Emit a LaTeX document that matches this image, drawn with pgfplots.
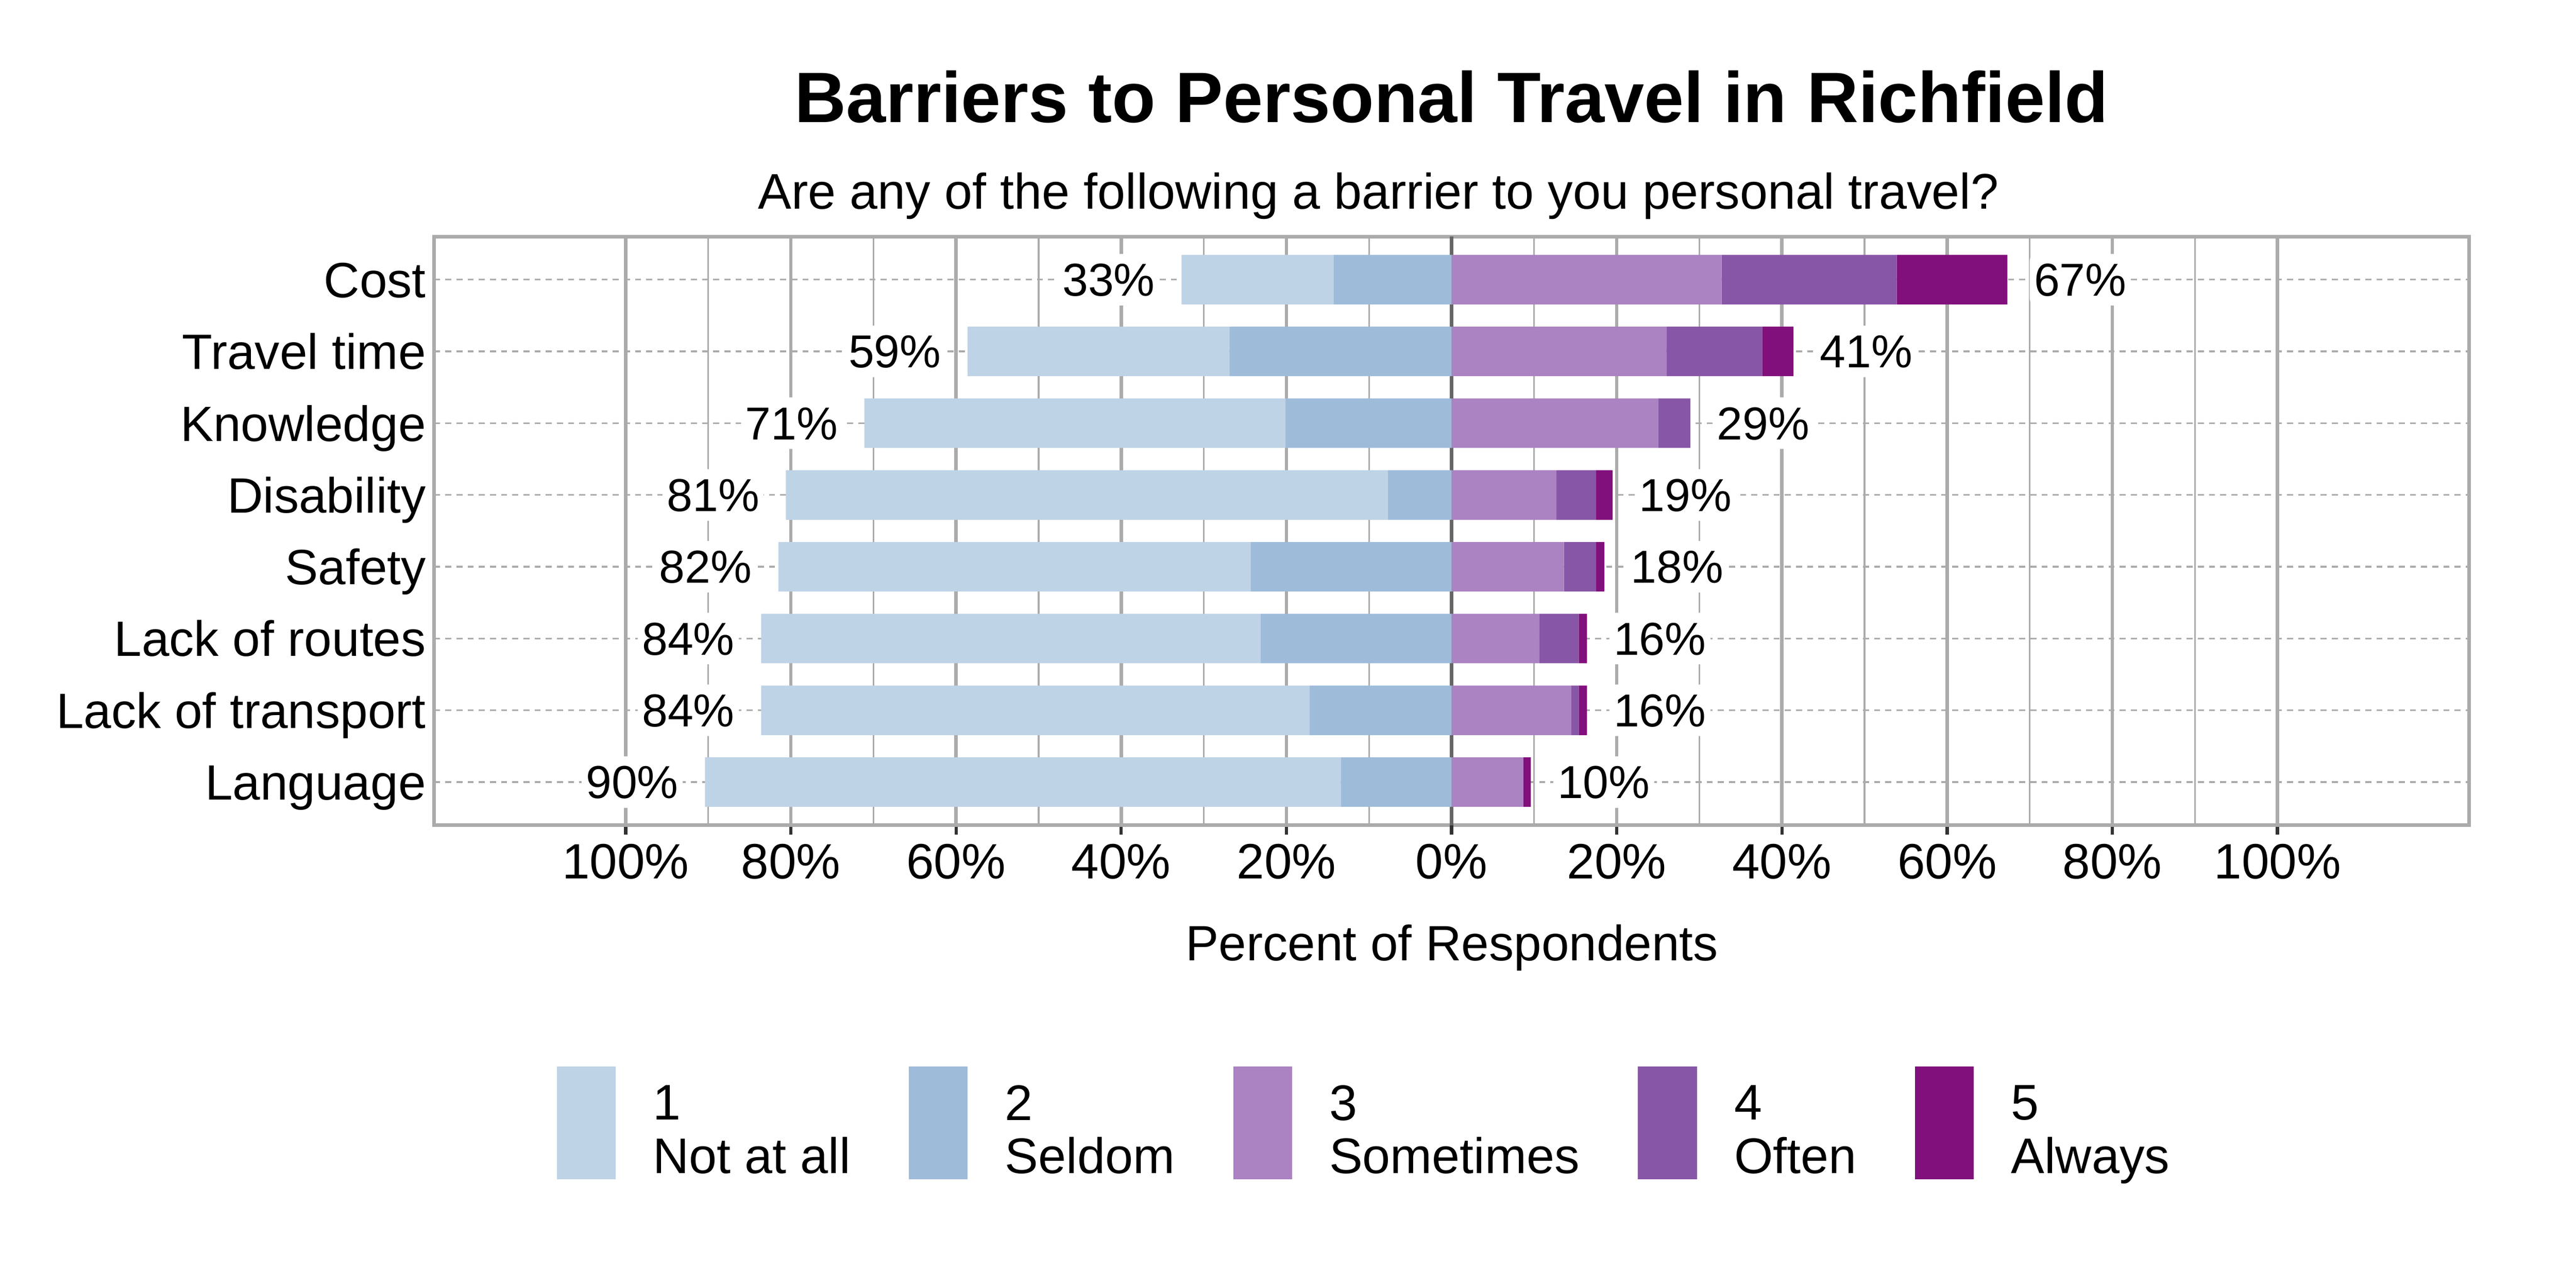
\documentclass[border=0pt]{standalone}
\usepackage{fontspec}
\setmainfont{Liberation Sans}
\usepackage{pgfplots}
\usepackage{pgfplotstable}
\pgfplotsset{compat=1.18}

\definecolor{c1}{HTML}{BFD3E6}
\definecolor{c2}{HTML}{9EBCDA}
\definecolor{c3}{HTML}{AB82C2}
\definecolor{c4}{HTML}{8856A7}
\definecolor{c5}{HTML}{810F7C}
\definecolor{gridgray}{HTML}{ABABAB}
\definecolor{zerogray}{HTML}{666666}
\definecolor{tickdark}{HTML}{333333}

% y: 8 = Cost (top) ... 1 = Language (bottom)
% negative side: Not at all and Seldom (percent of respondents, drawn to the left)
\pgfplotstableread{
y na seldom some often always
8 -18.4 -14.3 32.7 21.2 13.4
7 -31.7 -26.9 26.0 11.6 3.8
6 -51.0 -20.1 25.0 3.9 0.0
5 -72.9 -7.7 12.7 4.8 2.0
4 -57.2 -24.3 13.6 3.9 1.0
3 -60.5 -23.1 10.6 4.8 1.0
2 -66.4 -17.2 14.5 0.9 1.0
1 -77.0 -13.4 8.7 0.0 0.9
}\likert

\pgfplotstableread{
y x lab
8 -32.7 33
7 -58.6 59
6 -71.1 71
5 -80.6 81
4 -81.5 82
3 -83.6 84
2 -83.6 84
1 -90.4 90
}\leftlabels

\pgfplotstableread{
y x lab
8 67.3 67
7 41.4 41
6 28.9 29
5 19.5 19
4 18.5 18
3 16.4 16
2 16.4 16
1 9.6 10
}\rightlabels

\newcommand{\ticklabelfont}{\fontsize{11.6}{13}\selectfont}

\begin{document}
\begin{tikzpicture}
\path[use as bounding box] (0,0) rectangle (600bp,300bp);

\begin{axis}[
  at={(101.1bp,107.8bp)}, anchor=south west,
  scale only axis, width=474bp, height=137.1bp,
  xbar stacked, bar width=0.69,
  xmin=-123.2, xmax=123.2, ymin=0.4, ymax=8.6,
  ytick={1,2,3,4,5,6,7,8},
  yticklabels={Language,Lack of transport,Lack of routes,Safety,Disability,Knowledge,Travel time,Cost},
  xtick={-100,-80,-60,-40,-20,20,40,60,80,100},
  xticklabels={100\%,80\%,60\%,40\%,20\%,20\%,40\%,60\%,80\%,100\%},
  extra x ticks={0}, extra x tick labels={0\%},
  extra x tick style={major x grid style={color=zerogray, line width=0.9bp, solid}},
  minor xtick={-90,-70,-50,-30,-10,10,30,50,70,90},
  xmajorgrids, xminorgrids, ymajorgrids,
  major x grid style={color=gridgray, line width=0.8bp, solid},
  minor x grid style={color=gridgray, line width=0.4bp, solid},
  major y grid style={color=gridgray, line width=0.4bp, dash pattern=on 1.4bp off 1.2bp},
  axis line style={color=gridgray, line width=0.8bp},
  tick align=outside,
  major tick length=2.2bp, minor tick length=0pt,
  xtick pos=lower,
  xtick style={color=tickdark, line width=0.75bp},
  ytick style={draw=none},
  xticklabel style={font=\ticklabelfont, anchor=base, yshift=-10.3bp, inner sep=0pt},
  yticklabel style={font=\ticklabelfont, anchor=base east, inner sep=0pt, yshift=-4.15bp, xshift=0.5bp},
  legend columns=5,
  legend cell align=left,
  legend style={at={(0.05992,-0.40846)}, anchor=north west, draw=none, fill=none,
    inner sep=0pt, column sep=0pt,
    font=\fontsize{11.7}{12.5}\selectfont,
    nodes={inner sep=0pt, align=left},
    /tikz/every odd column/.append style={column sep=8.7bp},
    /tikz/every even column/.append style={column sep=13.6bp}},
  legend image code/.code={\fill[#1,draw=none] (0bp,-10.9bp) rectangle (13.7bp,15.4bp);},
]
% negative stack (Seldom nearest to zero, then Not at all)
\addplot[forget plot, draw=none, fill=c2] table[x=seldom, y=y] {\likert};
\addplot[forget plot, draw=none, fill=c1] table[x=na, y=y] {\likert};
% positive stack
\addplot[forget plot, draw=none, fill=c3] table[x=some, y=y] {\likert};
\addplot[forget plot, draw=none, fill=c4] table[x=often, y=y] {\likert};
\addplot[forget plot, draw=none, fill=c5] table[x=always, y=y] {\likert};
\addlegendimage{draw=none, fill=c1}
\addlegendentry{1\\Not at all}
\addlegendimage{draw=none, fill=c2}
\addlegendentry{2\\Seldom}
\addlegendimage{draw=none, fill=c3}
\addlegendentry{3\\Sometimes}
\addlegendimage{draw=none, fill=c4}
\addlegendentry{4\\Often}
\addlegendimage{draw=none, fill=c5}
\addlegendentry{5\\Always}
\end{axis}

\begin{axis}[
  at={(101.1bp,107.8bp)}, anchor=south west,
  scale only axis, width=474bp, height=137.1bp,
  xmin=-123.2, xmax=123.2, ymin=0.4, ymax=8.6,
  hide axis, clip=false,
]
\addplot[draw=none, mark=none, point meta=explicit symbolic,
  nodes near coords={\pgfplotspointmeta\%},
  nodes near coords style={anchor=east, xshift=-5bp, fill=white, text=black,
    inner xsep=1bp, inner ysep=0pt, text height=9.8bp, text depth=2.2bp,
    rounded corners=1.5bp, font=\fontsize{10.8}{13}\selectfont}]
  table[x=x, y=y, meta=lab] {\leftlabels};
\addplot[draw=none, mark=none, point meta=explicit symbolic,
  nodes near coords={\pgfplotspointmeta\%},
  nodes near coords style={anchor=west, xshift=5bp, fill=white, text=black,
    inner xsep=1bp, inner ysep=0pt, text height=9.8bp, text depth=2.2bp,
    rounded corners=1.5bp, font=\fontsize{10.8}{13}\selectfont}]
  table[x=x, y=y, meta=lab] {\rightlabels};
\end{axis}

\node[anchor=base, font=\fontsize{16.7}{20}\selectfont\bfseries] at (338.1bp,271.5bp) {Barriers to Personal Travel in Richfield};
\node[anchor=base, font=\fontsize{11.7}{14}\selectfont] at (321.1bp,251.3bp) {Are any of the following a barrier to you personal travel?};
\node[anchor=base, font=\fontsize{11.6}{14}\selectfont] at (338.2bp,76.3bp) {Percent of Respondents};
\end{tikzpicture}
\end{document}
